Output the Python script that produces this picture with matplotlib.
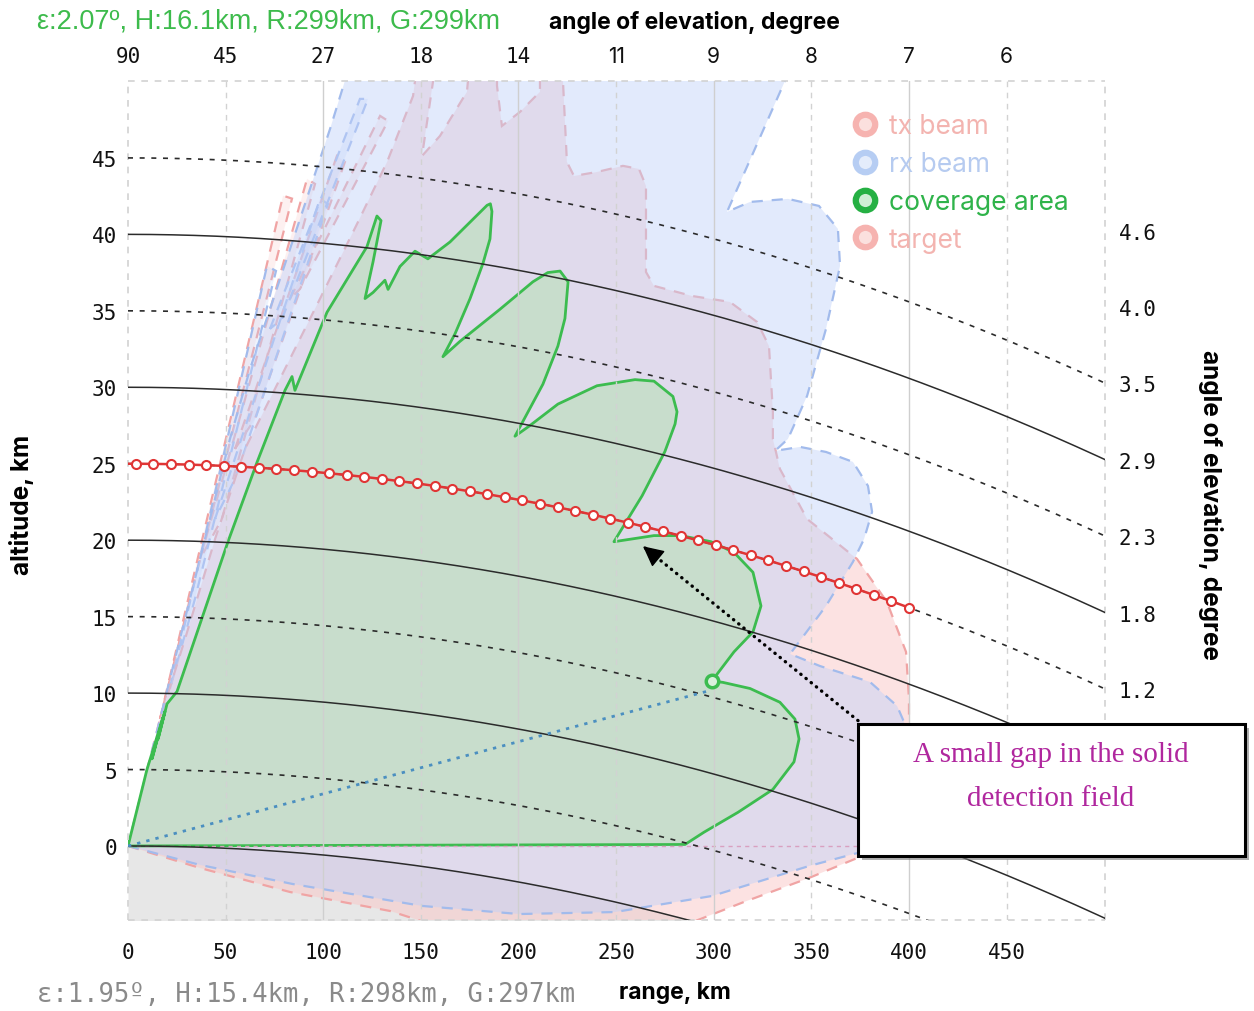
import numpy as np
import matplotlib
matplotlib.use("Agg")
import matplotlib.pyplot as plt
from matplotlib.patches import Polygon, Rectangle
from matplotlib.lines import Line2D

# ---------------------------------------------------------------- data
EARTH_R_EFF = 8500.0          # effective (4/3) earth radius, km

range_ticks = [0, 50, 100, 150, 200, 250, 300, 350, 400, 450]
elev_top_labels = ["90", "45", "27", "18", "14", "11", "9", "8", "7", "6"]
alt_ticks = [0, 5, 10, 15, 20, 25, 30, 35, 40, 45]
elev_right_alt = [40.25, 35.25, 30.25, 25.25, 20.25, 15.25, 10.25]
elev_right_labels = ["4.6", "4.0", "3.5", "2.9", "2.3", "1.8", "1.2"]
iso_alt_solid = [0, 10, 20, 30, 40]
iso_alt_dotted = [5, 15, 25, 35, 45]

# transmit beam outline (range km, altitude km)
tx_range = [0, 36.9, 83.0, 134.2, 159.8, 282.7, 315.5, 348.8, 372.3, 389.2, 397.4,
            400.0, 400.0, 398.5, 388.7, 373.4, 347.8, 333.9, 330.3, 330.3, 328.3,
            322.2, 308.3, 288.9, 269.4, 265.3, 265.3, 261.7, 253.5, 240.2, 228.4,
            224.8, 222.8, 222.8, 211.0, 211.0, 200.8, 191.5, 189.0, 189.0, 175.2,
            173.6, 159.8, 150.6, 156.2, 156.2, 148.5, 146.0, 132.7, 117.3, 98.3,
            77.8, 59.9, 44.6, 29.2, 16.4]
tx_alt = [0, -1.44, -3.01, -4.25, -5.3, -5.3, -3.66, -2.09, -0.85, 0.26, 1.90,
          4.38, 9.61, 12.69, 15.96, 18.77, 21.39, 24.66, 26.62, 28.39, 32.70,
          34.27, 35.58, 35.97, 36.63, 37.54, 43.17, 44.28, 44.48, 44.08, 43.82,
          44.74, 49.97, 51.5, 51.5, 49.32, 48.01, 47.09, 49.71, 51.5, 51.5,
          49.32, 46.44, 45.13, 49.97, 51.5, 51.5, 49.05, 44.74, 40.68, 35.78,
          30.54, 25.97, 20.08, 13.54, 8.31]

# receive beam outline (range km, altitude km)
rx_range = [0, 36.9, 84.5, 150.6, 200.3, 249.4, 299.1, 348.8, 371.8, 380.0, 388.7,
            396.9, 399.0, 399.0, 393.9, 380.0, 354.4, 339.1, 357.5, 371.3, 377.0,
            381.1, 379.0, 371.3, 357.5, 344.2, 331.4, 338.0, 347.8, 357.5, 364.7,
            363.6, 353.9, 338.0, 318.6, 306.8, 336.5, 339.1, 111.1, 111.1, 103.5,
            93.2, 83.0, 72.7, 62.5, 52.2, 39.4, 26.6, 16.4]
rx_alt = [0, -1.24, -2.49, -3.92, -4.45, -4.32, -3.27, -1.31, -0.52, -0.26, 0.46,
          2.42, 5.69, 7.65, 9.16, 10.73, 11.77, 12.56, 15.70, 18.58, 20.08,
          21.85, 23.55, 25.12, 25.77, 26.10, 25.84, 26.62, 29.43, 33.82, 37.94,
          40.36, 41.86, 42.32, 42.12, 41.47, 50.04, 51.5, 51.5, 50.04, 46.90,
          42.97, 39.05, 35.12, 31.20, 26.62, 20.08, 13.54, 8.31]

# side-lobe fingers on the upper-left edge of each beam
tx_lobes = [
    ([16.4, 79.4, 84.0, 29.2], [8.31, 42.53, 42.34, 14.85]),
    ([36.9, 91.7, 95.8, 48.1], [18.77, 43.63, 43.30, 21.39]),
    ([54.8, 107.0, 111.1, 65.0], [25.97, 45.13, 44.74, 27.93]),
    ([83.0, 129.1, 133.2, 88.1], [35.78, 47.75, 47.42, 36.43]),
]
rx_lobes = [
    ([21.5, 71.2, 75.8, 34.3], [10.27, 37.94, 37.61, 16.16]),
    ([44.6, 98.3, 102.4, 54.8], [21.39, 42.32, 41.99, 24.00]),
    ([72.7, 118.8, 122.9, 78.9], [33.82, 48.86, 48.86, 34.47]),
]

# coverage area outline (range km, altitude km)
coverage_range = [0, 9.7, 17.9, 12.3, 18.9, 15.4, 20.0, 25.1, 51.2, 66.1, 80.4, 84.0,
                  85.5, 101.9, 122.4, 127.5, 129.6, 125.5, 121.4, 125.5, 131.6, 133.2,
                  139.3, 147.0, 153.6, 164.9, 183.9, 185.6, 186.4, 185.4, 181.8, 175.2,
                  167.5, 161.3, 170.0, 190.5, 207.4, 215.0, 221.3, 225.4, 223.8, 220.2,
                  212.5, 198.2, 205.9, 220.2, 240.2, 259.7, 269.4, 279.1, 281.2, 280.2,
                  275.0, 263.3, 248.9, 269.4, 283.2, 298.6, 310.4, 320.1, 324.2, 320.1,
                  310.4, 299.1, 304.7, 318.6, 333.9, 341.6, 343.7, 341.1, 330.3, 312.4,
                  295.0, 285.3]
coverage_alt = [0, 5.0, 8.4, 5.7, 8.8, 7.0, 9.3, 10.1, 19.9, 25.1, 29.8, 30.7,
                29.8, 34.9, 39.2, 41.2, 40.9, 38.2, 35.8, 36.2, 37.0, 36.4,
                37.9, 38.9, 38.4, 39.5, 41.9, 42.0, 41.5, 39.7, 38.1, 35.8,
                33.5, 32.0, 33.0, 35.1, 36.9, 37.5, 37.6, 36.9, 34.5, 32.7,
                30.2, 26.8, 27.5, 28.9, 30.1, 30.5, 30.4, 29.4, 28.4, 27.6,
                25.8, 22.9, 19.9, 20.3, 20.3, 19.9, 19.2, 17.9, 15.7, 14.0,
                12.7, 10.8, 10.7, 10.3, 9.4, 8.3, 7.0, 5.5, 3.7, 2.2,
                0.9, 0.1]

# detection point and line of sight
detect_range, detect_alt = 299.1, 10.8
los_range = [0, 299.0]
los_alt = [0, 10.2]

# target track: constant altitude, plotted positions
target_altitude = 25.0
target_range = [4, 13, 22, 31, 40, 49, 58, 67, 76, 85, 94, 103, 112, 121, 130,
                139, 148, 157, 166, 175, 184, 193, 202, 211, 220, 229, 238, 247,
                256, 265, 274, 283, 292, 301, 310, 319, 328, 337, 346, 355, 364,
                373, 382, 391, 400]

# callout arrow (range km, altitude km): tail and tip
callout_tail = (373.9, 8.2)
callout_tip = (263.8, 19.6)

X_MAX, Y_MIN, Y_MAX = 500.4, -4.84, 50.03


def curved(alt_km, rng_km):
    """Altitude above the radar's tangent plane for a constant-height level."""
    r = np.asarray(rng_km, dtype=float)
    return alt_km - r ** 2 / (2.0 * EARTH_R_EFF)


# ---------------------------------------------------------------- figure
W, H = 1254, 1012
fig = plt.figure(figsize=(W / 100, H / 100), dpi=100)
ax = fig.add_axes([128 / W, 1 - 921 / H, 977 / W, 839 / H])
ax.set_xlim(0, X_MAX)
ax.set_ylim(Y_MIN, Y_MAX)
for s in ax.spines.values():
    s.set_visible(False)

MONO = "DejaVu Sans Mono"
SANS = ["Inter", "DejaVu Sans"]

# earth below the horizon
r_dense = np.linspace(0, X_MAX, 400)
ax.fill_between(r_dense, curved(0, r_dense), Y_MIN - 5, color="#e7e7e7", zorder=0, lw=0)

# beams
TX_EDGE, RX_EDGE = "#f0a4a4", "#a2bbec"
TX_FILL, RX_FILL = (0.98, 0.78, 0.78, 0.5), (0.75, 0.82, 0.98, 0.45)
for rr, aa in tx_lobes:
    ax.add_patch(Polygon(np.column_stack([rr, aa]), closed=True, fc=(0.98, 0.78, 0.78, 0.25),
                         ec=TX_EDGE, ls=(0, (5, 4)), lw=1.6, zorder=1))
for rr, aa in rx_lobes:
    ax.add_patch(Polygon(np.column_stack([rr, aa]), closed=True, fc=(0.75, 0.82, 0.98, 0.25),
                         ec=RX_EDGE, ls=(0, (5, 4)), lw=1.6, zorder=1))
ax.add_patch(Polygon(np.column_stack([tx_range, tx_alt]), closed=True, fc=TX_FILL,
                     ec=TX_EDGE, ls=(0, (5, 4)), lw=1.6, zorder=1))
ax.add_patch(Polygon(np.column_stack([rx_range, rx_alt]), closed=True, fc=RX_FILL,
                     ec=RX_EDGE, ls=(0, (5, 4)), lw=1.6, zorder=1.1))

# coverage area
GREEN = "#3cbc4f"
ax.add_patch(Polygon(np.column_stack([coverage_range, coverage_alt]), closed=True,
                     fc=(0.72, 0.88, 0.72, 0.6), ec=GREEN, lw=2.0, zorder=2,
                     joinstyle="round"))

# range grid
for r in range_ticks[1:]:
    if r % 100 == 0:
        ax.axvline(r, color="#cfcfcf", lw=1.0, zorder=3)
    else:
        ax.axvline(r, color="#d2d2d2", lw=1.0, ls=(0, (4, 4)), zorder=3)
frame_kw = dict(color="#d2d2d2", lw=1.2, ls=(0, (4, 4)), zorder=3, clip_on=False)
ax.axvline(0, **frame_kw)
ax.axvline(X_MAX, **frame_kw)
ax.axhline(Y_MAX, **frame_kw)
ax.axhline(Y_MIN, **frame_kw)
ax.axhline(0, color="#d9a0c0", lw=1.0, ls=(0, (3, 3)), zorder=2.5)

# constant-altitude levels
for h in iso_alt_solid:
    ax.plot(r_dense, curved(h, r_dense), color="#2b2b2b", lw=1.1, zorder=4)
for h in iso_alt_dotted:
    ax.plot(r_dense, curved(h, r_dense), color="#2b2b2b", lw=1.2, ls=(0, (3, 4)), zorder=4)

# line of sight and detection point
ax.plot(los_range, los_alt, color="#4b8fc0", lw=2.0, ls=(0, (1.2, 2.2)), zorder=5)
ax.plot([detect_range], [detect_alt], marker="o", ms=9, mfc="#d9f0dc", mec=GREEN,
        mew=2.5, zorder=7)

# target track
tr = [0] + target_range
ax.plot(tr, curved(target_altitude, tr), color="#e03535", lw=1.8, zorder=6)
ax.plot(target_range, curved(target_altitude, target_range), ls="none", marker="o",
        ms=6.5, mfc="white", mec="#e03535", mew=1.5, zorder=6)

# ticks
ax.set_xticks(range_ticks)
ax.set_xticklabels([str(v) for v in range_ticks], fontfamily=MONO, fontsize=15)
ax.set_yticks(alt_ticks)
ax.set_yticklabels([str(v) for v in alt_ticks], fontfamily=MONO, fontsize=15)
ax.tick_params(axis="x", length=0, pad=16, colors="#111111")
ax.tick_params(axis="y", length=0, pad=8, colors="#111111")

ax_top = ax.twiny()
ax_top.set_xlim(ax.get_xlim())
ax_top.set_xticks(range_ticks)
ax_top.set_xticklabels(elev_top_labels, fontsize=15)
for i, lab in enumerate(ax_top.get_xticklabels()):
    lab.set_fontfamily(MONO if i < 5 else SANS)
ax_top.tick_params(axis="x", length=0, pad=11, colors="#111111")

ax_right = ax.twinx()
ax_right.set_ylim(ax.get_ylim())
ax_right.set_yticks(elev_right_alt)
ax_right.set_yticklabels(elev_right_labels, fontfamily=MONO, fontsize=15)
ax_right.tick_params(axis="y", length=0, pad=10, colors="#111111")
for a in (ax_top, ax_right):
    for s in a.spines.values():
        s.set_visible(False)

# axis titles
fig.text(694 / W, 1 - 22 / H, "angle of elevation, degree", ha="center", va="center",
         fontsize=16.5, fontweight="bold", family=SANS)
fig.text(675 / W, 1 - 993 / H, "range, km", ha="center", va="center",
         fontsize=16.5, fontweight="bold", family=SANS)
fig.text(22 / W, 1 - 505 / H, "altitude, km", ha="center", va="center", rotation=90,
         fontsize=17.5, fontweight="bold", family=SANS)
fig.text(1210 / W, 1 - 505 / H, "angle of elevation, degree", ha="center", va="center",
         rotation=-90, fontsize=17.5, fontweight="bold", family=SANS)

# readouts
fig.text(37 / W, 1 - 22 / H, "ε:2.07º, H:16.1km, R:299km, G:299km", ha="left",
         va="center", fontsize=19.5, color="#3dbb4c", family=["Liberation Sans", "DejaVu Sans"])
fig.text(37 / W, 1 - 995 / H, "ε:1.95º, H:15.4km, R:298km, G:297km", ha="left",
         va="center", fontsize=18.4, color="#8a8a8a", family=MONO)

# legend
handles = [
    Line2D([], [], ls="none", marker="o", ms=14, mew=4.5, mec="#f6b3b0", mfc="#fbe0de"),
    Line2D([], [], ls="none", marker="o", ms=14, mew=4.5, mec="#b6cdf3", mfc="#e4ecfb"),
    Line2D([], [], ls="none", marker="o", ms=14, mew=4.5, mec="#25b043", mfc="#cfeed5"),
    Line2D([], [], ls="none", marker="o", ms=14, mew=4.5, mec="#f6b3b0", mfc="#fbe0de"),
]
labels = ["tx beam", "rx beam", "coverage area", "target"]
leg = ax.legend(handles, labels, loc="upper left", bbox_to_anchor=(852 / W, 1 - 114 / H),
                bbox_transform=fig.transFigure, frameon=False,
                prop={"family": SANS, "size": 19}, handlelength=1.0,
                handletextpad=0.4, labelspacing=0.45, borderpad=0, borderaxespad=0)
for t, c in zip(leg.get_texts(), ["#f3b4b0", "#b6cbf0", "#2fb34a", "#f3b4b0"]):
    t.set_color(c)
leg.set_zorder(8)

# annotation callout: dotted shaft plus solid head
ax.plot([callout_tail[0], callout_tip[0]], [callout_tail[1], callout_tip[1]],
        color="black", lw=2.4, ls=(0, (0.1, 1.9)), dash_capstyle="round",
        zorder=9, clip_on=False)
head_base = (callout_tip[0] + 0.05 * (callout_tail[0] - callout_tip[0]),
             callout_tip[1] + 0.05 * (callout_tail[1] - callout_tip[1]))
ax.annotate("", xy=callout_tip, xytext=head_base,
            arrowprops=dict(arrowstyle="-|>,head_length=0.8,head_width=0.4",
                            color="black", lw=1.0, mutation_scale=16,
                            shrinkA=0, shrinkB=0),
            zorder=9)
bx0, by0, bx1, by1 = 858, 725, 1245, 857
fig.patches.append(Rectangle(((bx0 + 4) / W, 1 - (by1 + 4) / H), (bx1 - bx0) / W,
                             (by1 - by0) / H, transform=fig.transFigure,
                             fc="#7a7a7a", ec="none", alpha=0.6, zorder=20))
fig.patches.append(Rectangle((bx0 / W, 1 - by1 / H), (bx1 - bx0) / W, (by1 - by0) / H,
                             transform=fig.transFigure, fc="white", ec="black", lw=2.2,
                             zorder=21))
fig.text(1051 / W, 1 - 755 / H, "A small gap in the solid", ha="center", va="center",
         fontsize=21, color="#b0279e", family=["Liberation Serif", "DejaVu Serif"],
         zorder=22)
fig.text(1051 / W, 1 - 799 / H, "detection field", ha="center", va="center",
         fontsize=21, color="#b0279e", family=["Liberation Serif", "DejaVu Serif"],
         zorder=22)

fig.savefig("out.png", dpi=100)
